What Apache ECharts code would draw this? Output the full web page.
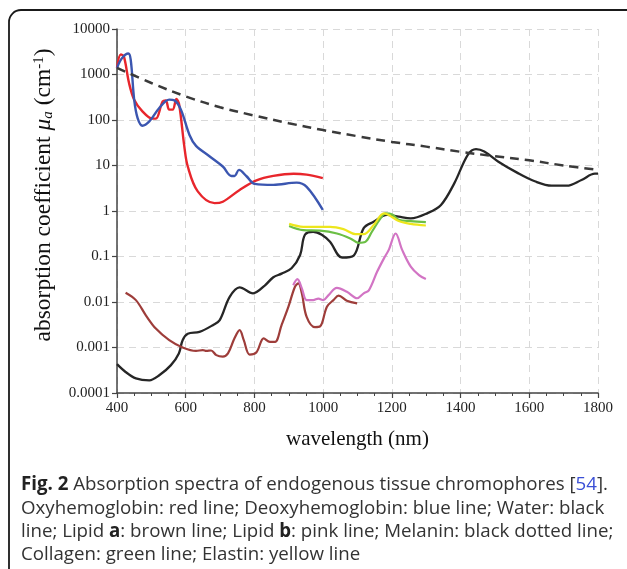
<!DOCTYPE html>
<html>
<head>
<meta charset="utf-8">
<script src="https://cdn.jsdelivr.net/npm/echarts@6/dist/echarts.min.js"></script>
<style>
html,body{margin:0;padding:0;background:#fff;}
#c{width:627px;height:569px;}
</style>
</head>
<body>
<div id="c"></div>
<script>
// ---- data (wavelength nm / absorption coefficient cm^-1) ----
const yTickLabels = ['0.0001','0.001','0.01','0.1','1','10','100','1000','10000'];
const xTickLabels = ['400','600','800','1000','1200','1400','1600','1800'];

const oxyNm  = [400,411,420,435,450,474,503,513,533,542,552,562,573,581,596,606,635,684,708,757,806,855,914,952,999];
const oxyVal = [1400,2750,2500,650,280,155,107,107,258,270,169,169,290,217,26,9.5,2.7,1.49,1.6,2.9,4.7,5.9,6.6,6.3,5.3];

const deoxyNm  = [400,415,433,440,450,460,474,494,523,552,567,586,611,630,669,708,733,742,755,777,801,855,923,952,999];
const deoxyVal = [1400,2320,2900,2100,280,110,75,93,184,280,270,169,47,27,16,9.5,5.9,5.9,8,5.8,3.95,3.76,4.2,3.4,1.06];

const waterNm  = [400,425,455,494,523,557,580,591,606,640,679,699,728,757,796,830,855,879,908,933,947,971,996,1020,1055,1089,1118,1147,1186,1220,1255,1304,1343,1382,1421,1445,1469,1509,1567,1616,1665,1709,1752,1791,1800];
const waterVal = [0.00043,0.00029,0.00021,0.00019,0.000245,0.00041,0.00074,0.00145,0.002,0.0022,0.0031,0.004,0.013,0.021,0.0155,0.023,0.035,0.042,0.055,0.108,0.30,0.35,0.30,0.21,0.095,0.105,0.42,0.58,0.82,0.75,0.69,0.9,1.36,4.1,17.2,23,20.4,12.3,6.8,4.5,3.6,3.6,4.8,6.6,6.6];

const lipidANm  = [425,455,484,513,552,591,630,650,660,674,689,708,723,742,757,769,786,806,827,845,860,879,899,918,928,938,952,976,991,1011,1030,1045,1069,1099];
const lipidAVal = [0.016,0.011,0.0051,0.0026,0.00145,0.001,0.00084,0.00088,0.00084,0.00086,0.00068,0.00063,0.00074,0.00159,0.0024,0.00145,0.0007,0.00079,0.00159,0.00133,0.00133,0.0031,0.0079,0.0216,0.0257,0.0155,0.0047,0.0028,0.0029,0.0079,0.011,0.0138,0.0107,0.0093];

const lipidBNm  = [913,925,938,952,971,986,1001,1015,1040,1069,1099,1118,1133,1157,1177,1191,1211,1230,1255,1279,1299];
const lipidBVal = [0.0234,0.0317,0.0199,0.011,0.011,0.0119,0.011,0.014,0.0204,0.0168,0.0121,0.0155,0.018,0.046,0.091,0.14,0.32,0.14,0.06,0.039,0.032];

const melaninNm  = [400,500,600,700,800,900,1000,1100,1200,1300,1400,1500,1600,1700,1800];
const melaninVal = [1400,650,330,190,125,85,60,44,33,26,20,16,13,10,8];

const collagenNm  = [901,942,991,1040,1079,1103,1123,1142,1167,1182,1201,1220,1255,1299];
const collagenVal = [0.47,0.38,0.37,0.32,0.25,0.2,0.21,0.35,0.69,0.89,0.84,0.64,0.6,0.57];

const elastinNm  = [901,942,1020,1059,1094,1118,1147,1177,1196,1220,1255,1299];
const elastinVal = [0.52,0.45,0.45,0.40,0.31,0.31,0.49,0.89,0.78,0.6,0.52,0.48];

const captionLines = [
  '{b|Fig. 2} Absorption spectra of endogenous tissue chromophores [{l|54}].',
  'Oxyhemoglobin: red line; Deoxyhemoglobin: blue line; Water: black',
  'line; Lipid {b|a}: brown line; Lipid {b|b}: pink line; Melanin: black dotted line;',
  'Collagen: green line; Elastin: yellow line'
];

// ---- chart ----
function zip(xs, ys){ return xs.map((x,i)=>[x, ys[i]]); }
function line(name, xs, ys, color, width, dash, z){
  return {
    name, type:'line', data: zip(xs, ys), smooth: 0.35, showSymbol:false, symbol:'none',
    lineStyle:{color, width, type: dash || 'solid'}, z: z || 2, animation:false,
    emphasis:{disabled:true}
  };
}

const serif = '"Liberation Serif", "DejaVu Serif", serif';
const capFont = '"Open Sans", sans-serif';
const capSize = 18.7;
const chart = echarts.init(document.getElementById('c'), null, {renderer:'canvas'});
const capGraphics = captionLines.map((t, i) => ({
  type:'text', x:21, y:[485,509,532,555][i],
  style:{
    text:t, font: capSize + 'px ' + capFont, fill:'#333', verticalAlign:'middle',
    rich:{
      b:{fontFamily:capFont, fontSize:capSize, fontWeight:'bold', fill:'#222', color:'#222'},
      l:{fontFamily:capFont, fontSize:capSize, fill:'#3a4fd6', color:'#3a4fd6'}
    }
  }
}));

chart.setOption({
  animation:false,
  backgroundColor:'#fff',
  grid:{left:117, right:29, top:29, bottom:176, containLabel:false, outerBoundsMode:'none'},
  xAxis:{
    type:'value', min:400, max:1800, interval:200,
    name:'wavelength (nm)', nameLocation:'middle', nameGap:36,
    nameTextStyle:{fontFamily:serif, fontSize:21, color:'#111'},
    axisLine:{show:true, lineStyle:{color:'#444', width:1.5}},
    axisTick:{show:true, inside:false, length:5, lineStyle:{color:'#444', width:1.2}},
    minorTick:{show:true, splitNumber:4, length:3, lineStyle:{color:'#444', width:1}},
    axisLabel:{fontFamily:serif, fontSize:15, color:'#222', margin:8,
      formatter: v => { const i = Math.round((v-400)/200); return xTickLabels[i] !== undefined ? xTickLabels[i] : ''; }},
    splitLine:{show:true, lineStyle:{color:'#d9d9d9', type:[7,5], width:1}}
  },
  yAxis:{
    type:'log', logBase:10, min:0.0001, max:10000,
    name:'absorption coefficient {i|μ}{s|a} (cm{p|-1})', nameLocation:'middle', nameGap:61,
    nameTextStyle:{fontFamily:serif, fontSize:23.5, color:'#111', padding:[0,0,0,32],
      rich:{
        i:{fontFamily:serif, fontStyle:'italic', fontSize:23.5, color:'#111'},
        s:{fontFamily:serif, fontStyle:'italic', fontSize:15, color:'#111', verticalAlign:'bottom', padding:[8,0,0,0]},
        p:{fontFamily:serif, fontSize:15, color:'#111', verticalAlign:'top', padding:[0,0,8,0]}
      }},
    axisLine:{show:true, lineStyle:{color:'#444', width:1.5}},
    axisTick:{show:true, inside:false, length:5, lineStyle:{color:'#444', width:1.2}},
    axisLabel:{fontFamily:serif, fontSize:15, color:'#222', margin:7,
      formatter: v => yTickLabels[Math.round(Math.log10(v)) + 4]},
    splitLine:{show:true, lineStyle:{color:'#d9d9d9', type:[7,5], width:1}}
  },
  series:[
    line('Water', waterNm, waterVal, '#262626', 2.3, null, 3),
    line('Lipid a', lipidANm, lipidAVal, '#9e3d3a', 2.2, null, 3),
    line('Lipid b', lipidBNm, lipidBVal, '#d274c4', 2.2, null, 3),
    line('Collagen', collagenNm, collagenVal, '#6bbf45', 2.2, null, 4),
    line('Elastin', elastinNm, elastinVal, '#ede61c', 2.2, null, 5),
    line('Oxyhemoglobin', oxyNm, oxyVal, '#e8262c', 2.4, null, 6),
    line('Deoxyhemoglobin', deoxyNm, deoxyVal, '#3b56b0', 2.4, null, 7),
    line('Melanin', melaninNm, melaninVal, '#3a3a3a', 2.5, [9,6], 8)
  ],
  graphic:[
    {type:'rect', z:-1, shape:{x:9, y:10, width:700, height:700, r:12}, style:{fill:'none', stroke:'#1a1a1a', lineWidth:1.8}},
    ...capGraphics
  ]
});
</script>
</body>
</html>
